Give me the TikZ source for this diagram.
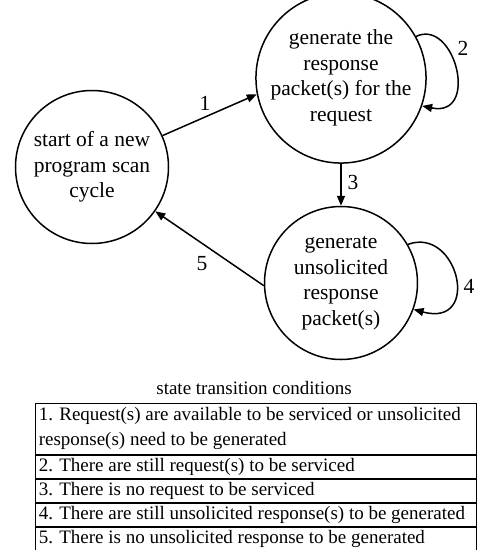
\documentclass[tikz,border=0pt]{standalone}
\usepackage{fontspec}
\setmainfont{Liberation Serif}
\usetikzlibrary{arrows.meta}
\begin{document}
\begin{tikzpicture}[x=1pt,y=-1pt,
  state/.style={circle,draw,line width=1.5pt,minimum size=153pt,inner sep=0pt,
    align=center,font=\fontsize{21.5}{25.5}\selectfont},
  trans/.style={line width=1.5pt,-{Triangle[length=10pt,width=8pt]}},
  lbl/.style={font=\fontsize{21.5}{25}\selectfont,inner sep=0pt},
  rowbox/.style={draw,line width=0.9pt,anchor=north,minimum width=441pt,
    inner sep=0pt,minimum height=23pt},
  cond/.style={anchor=west,inner sep=0pt,align=left,
    font=\fontsize{19}{25}\selectfont}]
\useasboundingbox (0,0) rectangle (478,550);

% states
\node[state] (start) at (92,167) {start of a new\\program scan\\cycle};
\node[state] (resp)  at (341,78) {generate the\\response\\packet(s) for the\\request};
\node[state] (unsol) at (341,283) {generate\\unsolicited\\response\\packet(s)};

% transitions
\draw[trans] (start.24) -- (resp.191);
\draw[trans] (resp.south) -- (unsol.north);
\draw[trans] (unsol.182) -- (start.-35);
\coordinate (c2a) at (455,18);
\coordinate (c2b) at (480,118);
\draw[trans] (resp.29) .. controls (c2a) and (c2b) .. (resp.-19);
\coordinate (c4a) at (458,226);
\coordinate (c4b) at (482,328);
\draw[trans] (unsol.30) .. controls (c4a) and (c4b) .. (unsol.-20);

% transition numbers
\node[lbl] (l1) at (205,103) {1};
\node[lbl] (l2) at (463,48) {2};
\node[lbl] (l3) at (353,182) {3};
\node[lbl] (l4) at (469,286) {4};
\node[lbl] (l5) at (202,264) {5};

% condition table
\node[font=\fontsize{19}{23}\selectfont,inner sep=0pt] (title) at (254,388) {state transition conditions};
\node[rowbox,minimum height=51pt] (r1) at (255.5,403) {};
\node[rowbox] (r2) at (r1.south) {};
\node[rowbox] (r3) at (r2.south) {};
\node[rowbox] (r4) at (r3.south) {};
\node[rowbox] (r5) at (r4.south) {};
\node[cond] (t1) at ([xshift=4pt]r1.west)
  {1. Request(s) are available to be serviced or unsolicited\\response(s) need to be generated};
\node[cond] (t2) at ([xshift=4pt]r2.west) {2. There are still request(s) to be serviced};
\node[cond] (t3) at ([xshift=4pt]r3.west) {3. There is no request to be serviced};
\node[cond] (t4) at ([xshift=4pt]r4.west) {4. There are still unsolicited response(s) to be generated};
\node[cond] (t5) at ([xshift=4pt]r5.west) {5. There is no unsolicited response to be generated};
\end{tikzpicture}
\end{document}
